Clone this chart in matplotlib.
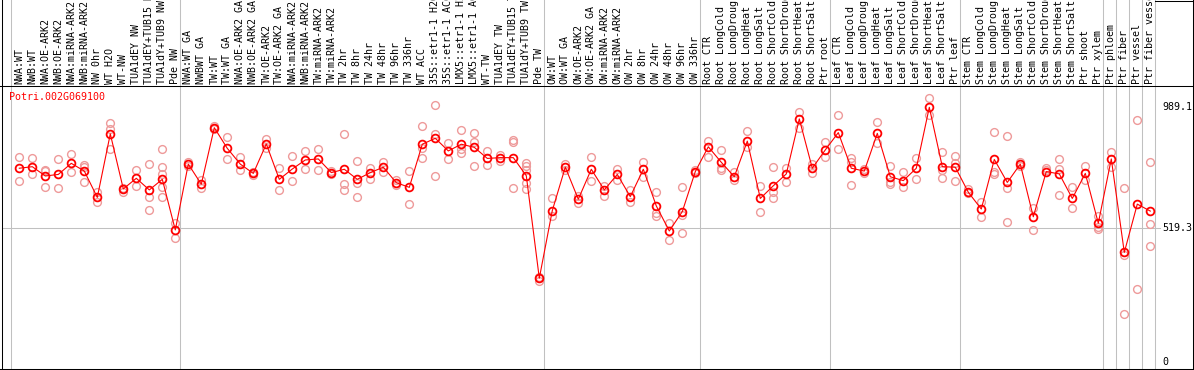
import matplotlib
matplotlib.use("Agg")
import matplotlib.pyplot as plt
import matplotlib.transforms as mtransforms

gene = "Potri.002G069100"

categories = [
    "NWA:WT", "NWB:WT", "NWA:OE-ARK2", "NWB:OE-ARK2", "NWA:miRNA-ARK2", "NWB:miRNA-ARK2",
    "NW 0hr", "WT H2O", "WT-NW", "TUA1dEY NW", "TUA1dEY+TUB15 NW", "TUA1dY+TUB9 NW", "Pde NW",
    "NWA:WT GA", "NWBWT GA", "TW:WT", "TW:WT GA", "NWA:OE-ARK2 GA", "NWB:OE-ARK2 GA",
    "TW:OE-ARK2", "TW:OE-ARK2 GA", "NWA:miRNA-ARK2", "NWB:miRNA-ARK2", "TW:miRNA-ARK2",
    "TW:miRNA-ARK2", "TW 2hr", "TW 8hr", "TW 24hr", "TW 48hr", "TW 96hr", "TW 336hr", "WT ACC",
    "35S::etr1-1 H2O", "35S::etr1-1 ACC", "LMX5::etr1-1 H2O", "LMX5::etr1-1 ACC", "WT-TW",
    "TUA1dEY TW", "TUA1dEY+TUB15 TW", "TUA1dY+TUB9 TW", "Pde TW",
    "OW:WT", "OW:WT GA", "OW:OE-ARK2", "OW:OE-ARK2 GA", "OW:miRNA-ARK2", "OW:miRNA-ARK2",
    "OW 2hr", "OW 8hr", "OW 24hr", "OW 48hr", "OW 96hr", "OW 336hr",
    "Root CTR", "Root LongCold", "Root LongDrought", "Root LongHeat", "Root LongSalt",
    "Root ShortCold", "Root ShortDrought", "Root ShortHeat", "Root ShortSalt", "Ptr root",
    "Leaf CTR", "Leaf LongCold", "Leaf LongDrought", "Leaf LongHeat", "Leaf LongSalt",
    "Leaf ShortCold", "Leaf ShortDrought", "Leaf ShortHeat", "Leaf ShortSalt", "Ptr leaf",
    "Stem CTR", "Stem LongCold", "Stem LongDrought", "Stem LongHeat", "Stem LongSalt",
    "Stem ShortCold", "Stem ShortDrought", "Stem ShortHeat", "Stem ShortSalt", "Ptr shoot",
    "Ptr xylem", "Ptr phloem", "Ptr fiber", "Ptr vessel", "Ptr fiber vessel",
]

group_sizes = [13, 28, 12, 10, 10, 11, 1, 1, 1, 1]

means = [
    752, 758, 722, 728, 771, 741, 639, 885, 672, 713, 668, 709, 513,
    768, 690, 909, 829, 768, 732, 846, 709, 749, 784, 788, 735, 748, 709, 735, 756, 696,
    678, 845, 868, 819, 845, 833, 790, 793, 793, 723, 326,
    588, 756, 632, 748, 668, 728, 642, 748, 606, 509, 584, 739,
    835, 775, 719, 857, 635, 684, 730, 943, 752, 823,
    890, 752, 741, 887, 719, 704, 752, 988, 758, 756,
    659, 594, 786, 697, 768, 564, 739, 730, 635, 732, 539,
    788, 426, 613, 586,
]

replicates = [
    [794, 703], [790, 728], [745, 740, 678], [786, 674], [807, 739], [764, 758, 697],
    [661, 622], [926, 903, 826], [661, 675], [745, 684], [768, 639, 590],
    [825, 756, 731, 678, 642], [541, 483],
    [775, 760], [706, 674], [915, 905], [874, 786], [797, 745], [739, 725], [864, 829],
    [752, 668], [799, 702], [819, 749], [825, 745], [740, 730], [885, 691, 668],
    [780, 696, 642], [754, 709], [777, 739], [705, 688], [741, 612], [916, 829, 790],
    [997, 885, 722], [848, 786], [900, 825, 810], [887, 855, 761], [819, 764], [803, 781],
    [855, 860, 674], [773, 760, 745, 694, 670], [316, 330],
    [635, 567], [768, 745], [645, 619], [794, 704], [684, 645], [749, 706], [668, 620],
    [775, 719], [659, 580, 567], [539, 474], [678, 571, 502], [745, 733],
    [859, 797], [823, 752, 745], [739, 706], [896, 835], [684, 581], [756, 661, 635],
    [754, 697], [971, 906], [768, 735], [852, 794],
    [958, 825], [790, 777, 687], [748, 732], [930, 848], [761, 700, 691], [739, 680],
    [790, 709], [1023, 958], [814, 745, 715], [799, 771, 702],
    [670, 655], [622, 562], [891, 739, 728], [877, 674, 542], [775, 760], [597, 513],
    [752, 745], [786, 749, 648], [678, 597], [761, 706], [567, 523, 517],
    [814, 756], [674, 416, 187], [939, 283], [775, 535, 451],
]

ytick_values = [989.1, 519.3, 0]
ytick_labels = ["989.1", "519.3", "0"]
gridline_value = 519.3

W, H = 1194, 370
fig = plt.figure(figsize=(W / 100, H / 100), dpi=100)
ax = fig.add_axes([0, 0, 1, 1])
ax.axis("off")

# pixel geometry of reference
x0_px, dx_px = 19.3, 13.0
y0_px, dy_px = 362.4, 0.2582
ax.set_xlim((0 - x0_px) / dx_px, (W - x0_px) / dx_px)
ax.set_ylim((y0_px - H) / dy_px, y0_px / dy_px)

fx = lambda px: px / W
fy = lambda py: 1 - py / H
mono = "DejaVu Sans Mono"
fs = 7.2
grid_c = "#c0c0c0"
lw1 = 0.75

xdata_yaxes = mtransforms.blended_transform_factory(ax.transData, ax.transAxes)
xaxes_ydata = mtransforms.blended_transform_factory(ax.transAxes, ax.transData)

# vertical group gridlines
b = 0
bounds = [0]
for g in group_sizes:
    b += g
    bounds.append(b)
for bb in bounds:
    ax.axvline(bb - 0.62, color=grid_c, lw=lw1, zorder=1)

# horizontal gridline
ax.plot([fx(2), fx(1160)], [gridline_value, gridline_value], transform=xaxes_ydata,
        color=grid_c, lw=lw1, zorder=1)

# frame lines (black)
ax.plot([0, 1], [fy(85.5), fy(85.5)], transform=ax.transAxes, color="k", lw=lw1, zorder=2)
ax.plot([fx(1.5), fx(1.5)], [0, 1], transform=ax.transAxes, color="k", lw=lw1, zorder=2)
ax.plot([0, 1], [fy(369.2), fy(369.2)], transform=ax.transAxes, color="k", lw=lw1, zorder=2)
ax.plot([fx(1192.7), fx(1192.7)], [0, 1], transform=ax.transAxes, color="k", lw=lw1, zorder=2)
ax.plot([fx(1155), 1], [fy(0.6), fy(0.6)], transform=ax.transAxes, color="k", lw=lw1, zorder=2)

# category labels
for i, name in enumerate(categories):
    ax.text(i, fy(84), name, rotation=90, ha="center", va="bottom", family=mono,
            fontsize=fs, transform=xdata_yaxes, clip_on=False)

# y labels on right
for v, lab in zip(ytick_values, ytick_labels):
    ax.text(fx(1162), v, lab, ha="left", va="center", family=mono, fontsize=fs,
            transform=xaxes_ydata)

# gene name
ax.text(fx(9.5), fy(97.5), gene, color="#ff0000", ha="left", va="center", family=mono,
        fontsize=fs, transform=ax.transAxes)

# replicates
for i, reps in enumerate(replicates):
    ax.plot([i] * len(reps), reps, ls="none", marker="o", ms=5.6, mfc="none",
            mec="#ee9a9a", mew=1.0, zorder=3)

x = list(range(len(means)))
ax.plot(x, means, color="#ff0000", lw=0.8, zorder=4)
ax.plot(x, means, ls="none", marker="o", ms=5.6, mfc="none", mec="#ff0000", mew=1.3, zorder=5)

fig.savefig("out.png", dpi=100)
